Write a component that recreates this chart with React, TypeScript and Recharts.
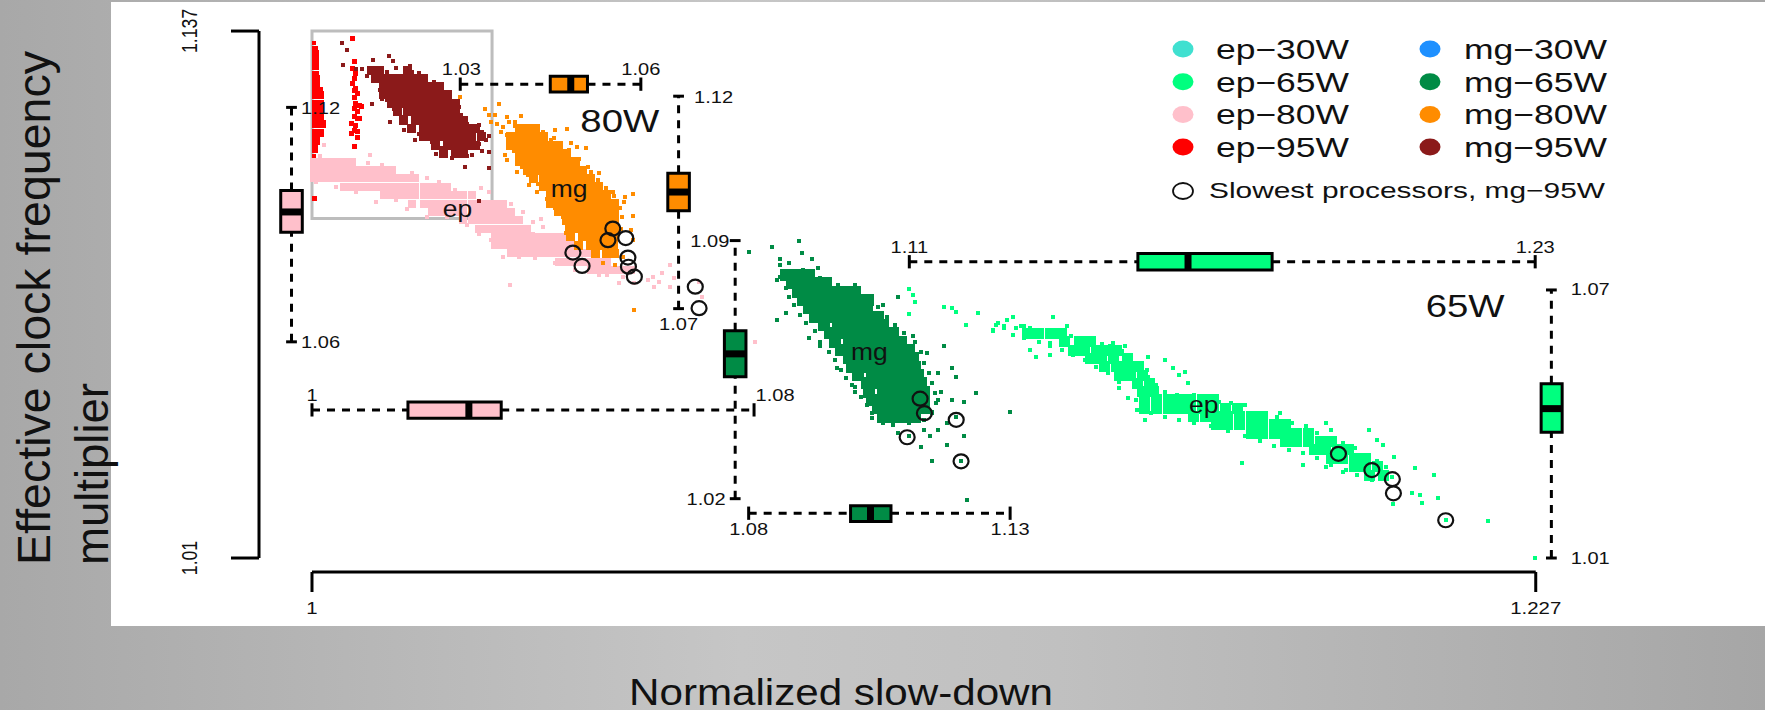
import { Fragment } from 'react';
import { ScatterChart, Scatter, XAxis, YAxis, ReferenceLine, ReferenceArea } from 'recharts';

type Pair = [number, number];
type Row = [number, number[]];

const xTicks = [1, 1.227];
const yTicks = [1.01, 1.137];

// dense parts of the clouds, as rows: [y, x values]
const ep80Core: Row[] = [
  [1.1055, [1.001, 1.0021, 1.0035, 1.005, 1.0065, 1.008]],
  [1.1035, [1.001, 1.0021, 1.0035, 1.005, 1.0065, 1.008, 1.0095, 1.0109, 1.0124, 1.0139, 1.0154]],
  [1.1015, [1.001, 1.0021, 1.0035, 1.005, 1.0065, 1.008, 1.0095, 1.0109, 1.0124, 1.0139, 1.0154, 1.0168, 1.0183, 1.0198]],
  [1.0995, [1.0065, 1.008, 1.0095, 1.0109, 1.0124, 1.0139, 1.0154, 1.0168, 1.0183, 1.0198, 1.0213, 1.0228, 1.0242, 1.0257]],
  [1.0975, [1.0139, 1.0154, 1.0168, 1.0183, 1.0198, 1.0213, 1.0228, 1.0242, 1.0257, 1.0272, 1.0287, 1.0302]],
  [1.0954, [1.0191, 1.0213, 1.0228, 1.0242, 1.0257, 1.0272, 1.0287, 1.0302, 1.0316, 1.0331, 1.0346, 1.0361]],
  [1.0934, [1.0228, 1.0242, 1.0257, 1.0272, 1.0287, 1.0302, 1.0316, 1.0331, 1.0346, 1.0361, 1.0375]],
  [1.0914, [1.0287, 1.0302, 1.0316, 1.0331, 1.0346, 1.0361, 1.0375, 1.039]],
  [1.0894, [1.0316, 1.0331, 1.0346, 1.0361, 1.0375, 1.039, 1.0405]],
  [1.0874, [1.0346, 1.0361, 1.0375, 1.039, 1.0405, 1.042, 1.0435, 1.0449, 1.0464, 1.0479]],
  [1.0854, [1.0346, 1.0361, 1.0375, 1.039, 1.0405, 1.042, 1.0435, 1.0449, 1.0464, 1.0479, 1.0494]],
  [1.0834, [1.0375, 1.039, 1.0405, 1.042, 1.0435, 1.0449, 1.0464, 1.0479, 1.0494, 1.0508, 1.0523]],
  [1.0814, [1.0464, 1.0479, 1.0494, 1.0508, 1.0523, 1.0538, 1.0553]],
  [1.0794, [1.0523, 1.0538, 1.0553, 1.0568, 1.0582, 1.0597]],
];
const ep80Stray: Pair[] = [
  [1.0553, 1.0782], [1.0582, 1.0778], [1.0638, 1.0778], [1.0649, 1.0766], [1.0671, 1.0806], [1.0656, 1.0786],
  [1.0678, 1.0774], [1.0641, 1.0754], [1.0671, 1.0754], [1.063, 1.077], [1.0723, 1.0766], [1.073, 1.073],
  [1.0373, 1.0758], [1.0361, 1.0826], [1.032, 1.0991], [1.0335, 1.0982], [1.0375, 1.0954], [1.0398, 1.0934],
  [1.0416, 1.091], [1.0431, 1.0918], [1.0435, 1.0898], [1.0113, 1.1071], [1.0028, 1.1095], [1.0021, 1.1068],
  [1.0242, 1.1007], [1.0021, 1.106], [1.005, 1.1059], [1.008, 1.1055], [1.0109, 1.1051], [1.0135, 1.1047],
  [1.0157, 1.1035], [1.0191, 1.1027], [1.022, 1.1015], [1.0242, 1.1007], [1.0272, 1.0987], [1.0302, 1.0978],
  [1.0335, 1.0954], [1.0353, 1.0946], [1.0375, 1.093], [1.039, 1.091], [1.0416, 1.0882], [1.0446, 1.087],
  [1.0468, 1.0866], [1.0013, 1.1007], [1.005, 1.0995], [1.0087, 1.0982], [1.0124, 1.0958], [1.0161, 1.0962],
  [1.0183, 1.0942], [1.022, 1.0922], [1.0257, 1.0922], [1.0294, 1.0902], [1.0316, 1.0882], [1.0338, 1.0866],
  [1.0361, 1.0826], [1.039, 1.0826], [1.042, 1.0822], [1.0457, 1.081], [1.0494, 1.0794], [1.0538, 1.0782],
  [1.0575, 1.0762], [1.0604, 1.0762],
];
const ep80Far: Pair[] = [[1.0821, 1.0621]];

const ep95Streak: Row[] = [
  [1.134, [1.001]], [1.133, [1.001, 1.0014]], [1.132, [1.001, 1.0015]], [1.131, [1.001, 1.0016]],
  [1.13, [1.001, 1.0016]], [1.129, [1.001, 1.0016]], [1.128, [1.001, 1.0016]], [1.127, [1.001, 1.0016]],
  [1.126, [1.001, 1.0017]], [1.125, [1.001, 1.0017]], [1.124, [1.001, 1.0017]], [1.123, [1.001, 1.0017, 1.0023]],
  [1.122, [1.001, 1.0017, 1.0024]], [1.121, [1.001, 1.0017, 1.0024]], [1.12, [1.001, 1.0017, 1.0024]],
  [1.119, [1.001, 1.0017, 1.0024]], [1.118, [1.001, 1.0017, 1.0024]], [1.117, [1.001, 1.0017, 1.0024]],
  [1.116, [1.001, 1.0017, 1.0024]], [1.115, [1.001, 1.0017, 1.0024, 1.0028]], [1.114, [1.001, 1.0017, 1.0024, 1.0028]],
  [1.113, [1.001, 1.0017, 1.0024]], [1.112, [1.001, 1.0017, 1.0024]], [1.111, [1.001, 1.0017]],
  [1.11, [1.001, 1.0017]], [1.109, [1.001, 1.0014]], [1.108, [1.001, 1.0014]], [1.107, [1.001]],
];
const ep95Stray: Pair[] = [
  [1.0084, 1.1296], [1.0082, 1.128], [1.0086, 1.1268], [1.0084, 1.1256], [1.0082, 1.1243], [1.0087, 1.1231],
  [1.0084, 1.1227], [1.0091, 1.1219], [1.0084, 1.1211], [1.0087, 1.1195], [1.0095, 1.1191], [1.0098, 1.1187],
  [1.0084, 1.1183], [1.0091, 1.1175], [1.0084, 1.1163], [1.0091, 1.1159], [1.008, 1.1147], [1.0087, 1.1143],
  [1.0095, 1.1159], [1.0084, 1.1131], [1.0091, 1.1127], [1.008, 1.1123], [1.0091, 1.1113], [1.0084, 1.1091],
  [1.001, 1.0966], [1.0082, 1.1352],
];

const mg95Core: Row[] = [
  [1.1276, [1.0117, 1.0132, 1.0183]],
  [1.1256, [1.0124, 1.0139, 1.0154, 1.0168, 1.0183, 1.0198, 1.0213]],
  [1.1236, [1.0139, 1.0154, 1.0168, 1.0183, 1.0198, 1.0213, 1.0228, 1.0242]],
  [1.1216, [1.0139, 1.0154, 1.0168, 1.0183, 1.0198, 1.0213, 1.0228, 1.0242, 1.0257]],
  [1.1196, [1.0154, 1.0168, 1.0183, 1.0198, 1.0213, 1.0228, 1.0242, 1.0257, 1.0272]],
  [1.1175, [1.0165, 1.0183, 1.0198, 1.0213, 1.0228, 1.0242, 1.0257, 1.0272]],
  [1.1155, [1.0176, 1.0198, 1.0213, 1.0228, 1.0242, 1.0257, 1.0272, 1.0287]],
  [1.1135, [1.0191, 1.0213, 1.0228, 1.0242, 1.0257, 1.0272, 1.0287, 1.0302, 1.0309]],
  [1.1115, [1.0213, 1.0228, 1.0242, 1.0257, 1.0272, 1.0287, 1.0302, 1.032]],
  [1.1095, [1.0235, 1.0257, 1.0272, 1.0287, 1.0302, 1.0309]],
  [1.1075, [1.025, 1.0272, 1.0287]],
];
const mg95Stray: Pair[] = [
  [1.0061, 1.134], [1.0071, 1.1324], [1.0064, 1.1288], [1.0149, 1.1309], [1.012, 1.13], [1.0157, 1.1297],
  [1.0161, 1.128], [1.0187, 1.1285], [1.0191, 1.1272], [1.0217, 1.1261], [1.0087, 1.1278], [1.0098, 1.1278],
  [1.0108, 1.1261], [1.0118, 1.1194], [1.015, 1.1151], [1.0135, 1.1207], [1.0246, 1.1237], [1.0257, 1.1219],
  [1.0279, 1.1187], [1.0283, 1.1167], [1.0176, 1.1131], [1.0198, 1.1107], [1.0236, 1.1073], [1.0265, 1.1065],
  [1.029, 1.1043], [1.0315, 1.0961], [1.0335, 1.1117], [1.0335, 1.1039], [1.0315, 1.1143], [1.0322, 1.1127],
  [1.0322, 1.1081], [1.0303, 1.1071], [1.0294, 1.1147], [1.0335, 1.1079], [1.0128, 1.1282], [1.0146, 1.1272],
  [1.0205, 1.1268], [1.0232, 1.1248], [1.0132, 1.1228], [1.0145, 1.1205], [1.0158, 1.1182], [1.0172, 1.1162],
  [1.0187, 1.1142], [1.0205, 1.1122], [1.0228, 1.1102], [1.0245, 1.1088], [1.0316, 1.1098], [1.0328, 1.1108],
  [1.0293, 1.1069], [1.0268, 1.1083],
];

const mg80Core: Row[] = [
  [1.1135, [1.039, 1.0405, 1.042]],
  [1.1115, [1.0375, 1.039, 1.0405, 1.042, 1.0435]],
  [1.1095, [1.0375, 1.039, 1.0405, 1.042, 1.0435, 1.0449, 1.0464]],
  [1.1075, [1.039, 1.0405, 1.042, 1.0435, 1.0449, 1.0464, 1.0479]],
  [1.1055, [1.039, 1.0405, 1.042, 1.0435, 1.0449, 1.0464, 1.0479, 1.0494]],
  [1.1035, [1.0405, 1.042, 1.0435, 1.0449, 1.0464, 1.0479, 1.0494, 1.0508]],
  [1.1015, [1.0416, 1.0435, 1.0449, 1.0464, 1.0479, 1.0494, 1.0508, 1.0523]],
  [1.0995, [1.0435, 1.0449, 1.0464, 1.0479, 1.0494, 1.0508, 1.0523, 1.0538]],
  [1.0975, [1.0449, 1.0464, 1.0479, 1.0494, 1.0508, 1.0523, 1.0538, 1.0553]],
  [1.0954, [1.0449, 1.0464, 1.0479, 1.0494, 1.0508, 1.0523, 1.0538, 1.0553, 1.0568]],
  [1.0934, [1.0464, 1.0479, 1.0494, 1.0508, 1.0523, 1.0538, 1.0553, 1.0568]],
  [1.0914, [1.0479, 1.0494, 1.0508, 1.0523, 1.0538, 1.0553, 1.0568]],
  [1.0894, [1.0483, 1.0494, 1.0508, 1.0523, 1.0538, 1.0553, 1.0568]],
  [1.0874, [1.0486, 1.0508, 1.0523, 1.0538, 1.0553, 1.0566]],
  [1.0854, [1.0501, 1.0523, 1.0538, 1.0553, 1.0566]],
  [1.0834, [1.0531, 1.0553, 1.0568]],
];
const mg80Stray: Pair[] = [
  [1.0281, 1.1211], [1.0327, 1.1181], [1.0353, 1.1193], [1.0335, 1.1167], [1.0346, 1.1167], [1.0368, 1.1163],
  [1.0338, 1.1151], [1.035, 1.1147], [1.0394, 1.1165], [1.0361, 1.1139], [1.0372, 1.1151], [1.0383, 1.1151],
  [1.0357, 1.1127], [1.0368, 1.1119], [1.0364, 1.1071], [1.0368, 1.1059], [1.0386, 1.1031], [1.0409, 1.0999],
  [1.0423, 1.0982], [1.0435, 1.1127], [1.0457, 1.1131], [1.0479, 1.1135], [1.0449, 1.1107], [1.0468, 1.1095],
  [1.0486, 1.1099], [1.0497, 1.1091], [1.0514, 1.1087], [1.0523, 1.1031], [1.0538, 1.1027], [1.0564, 1.0982],
  [1.0601, 1.0978], [1.0586, 1.097], [1.0584, 1.0958], [1.0601, 1.0924], [1.0597, 1.089], [1.0601, 1.0866],
  [1.0568, 1.0806], [1.0604, 1.0697], [1.0582, 1.0826], [1.0545, 1.081], [1.0382, 1.1141], [1.0432, 1.1122],
  [1.0455, 1.1112], [1.0482, 1.1084], [1.0502, 1.1062], [1.0518, 1.1043], [1.0536, 1.1012], [1.0551, 1.0992],
  [1.0567, 1.0972], [1.0578, 1.0944], [1.0581, 1.0922], [1.0579, 1.0892], [1.0381, 1.1082], [1.0396, 1.1042],
  [1.0406, 1.1022], [1.0426, 1.1002], [1.0442, 1.0966], [1.0456, 1.0944], [1.0472, 1.0922], [1.0477, 1.0884],
];

const mg65Core: Row[] = [
  [1.0782, [1.0879, 1.0901, 1.0922]],
  [1.0762, [1.089, 1.0911, 1.0933, 1.0954]],
  [1.0742, [1.0901, 1.0922, 1.0943, 1.0965, 1.0986, 1.1007]],
  [1.0722, [1.0911, 1.0933, 1.0954, 1.0975, 1.0997, 1.1018, 1.1031]],
  [1.0702, [1.0922, 1.0943, 1.0965, 1.0986, 1.1007, 1.1029]],
  [1.0682, [1.0933, 1.0954, 1.0975, 1.0997, 1.1018, 1.1039, 1.105]],
  [1.0662, [1.0949, 1.0975, 1.0997, 1.1018, 1.1039, 1.106]],
  [1.0642, [1.096, 1.0975, 1.0997, 1.1018, 1.1039, 1.106, 1.1077]],
  [1.0621, [1.097, 1.0997, 1.1018, 1.1039, 1.106, 1.1082, 1.1092]],
  [1.0601, [1.0981, 1.0997, 1.1018, 1.1039, 1.106, 1.1082, 1.1103, 1.1108]],
  [1.0581, [1.0997, 1.1018, 1.1039, 1.106, 1.1082, 1.1103, 1.1114]],
  [1.0561, [1.1002, 1.1018, 1.1039, 1.106, 1.1082, 1.1103, 1.1119]],
  [1.0541, [1.1013, 1.1039, 1.106, 1.1082, 1.1103, 1.1124]],
  [1.0521, [1.1029, 1.1039, 1.106, 1.1082, 1.1103, 1.1124, 1.113]],
  [1.0501, [1.1034, 1.106, 1.1082, 1.1103, 1.1124, 1.1135]],
  [1.0481, [1.1039, 1.106, 1.1082, 1.1103, 1.1124, 1.1135]],
  [1.0461, [1.105, 1.106, 1.1082, 1.1103, 1.1124, 1.1135]],
  [1.0441, [1.106, 1.1082, 1.1103, 1.1119]],
];
const mg65Stray: Pair[] = [
  [1.081, 1.0838], [1.0853, 1.0849], [1.0903, 1.0864], [1.0909, 1.0834], [1.0869, 1.082], [1.0885, 1.081],
  [1.0927, 1.082], [1.0911, 1.0794], [1.0938, 1.0798], [1.0869, 1.0806], [1.0863, 1.077], [1.0879, 1.069],
  [1.0863, 1.0674], [1.0922, 1.063], [1.0943, 1.061], [1.0973, 1.0557], [1.1002, 1.0517], [1.1007, 1.0501],
  [1.1039, 1.0437], [1.106, 1.0437], [1.1077, 1.0421], [1.1087, 1.0401], [1.113, 1.0368], [1.1151, 1.0333],
  [1.1178, 1.0373], [1.1146, 1.0393], [1.1162, 1.0409], [1.121, 1.0393], [1.1178, 1.0425], [1.1194, 1.0441],
  [1.121, 1.0477], [1.1231, 1.0497], [1.1295, 1.0451], [1.1188, 1.0557], [1.1194, 1.0537], [1.1162, 1.0545],
  [1.1172, 1.061], [1.114, 1.0594], [1.1114, 1.0634], [1.1087, 1.073], [1.106, 1.071], [1.1007, 1.0758],
  [1.0975, 1.0758], [1.1151, 1.0521], [1.1167, 1.0501], [1.1162, 1.0481], [1.1188, 1.0481], [1.1215, 1.024],
  [1.1204, 1.0333], [1.1151, 1.0453], [1.1135, 1.0409], [1.1108, 1.0393],
  [1.0869, 1.0778], [1.0879, 1.075], [1.0885, 1.073], [1.0895, 1.071], [1.0906, 1.0686], [1.0917, 1.0666],
  [1.0933, 1.0646], [1.0943, 1.0621], [1.0959, 1.0597], [1.097, 1.0577], [1.0981, 1.0553], [1.0991, 1.0533],
  [1.1007, 1.0513], [1.1018, 1.0489], [1.1029, 1.0469], [1.1039, 1.0449], [1.0943, 1.0774], [1.0975, 1.075],
  [1.1029, 1.073], [1.105, 1.0706], [1.1066, 1.0682], [1.1082, 1.0662], [1.1098, 1.0642], [1.1119, 1.0621],
  [1.113, 1.0597], [1.1135, 1.0569], [1.1144, 1.0545], [1.1151, 1.0521], [1.1156, 1.0497], [1.1158, 1.0473],
  [1.1151, 1.0449], [1.1135, 1.0433], [1.1108, 1.0425], [1.1082, 1.0429], [1.106, 1.0425],
];

const ep65Core: Row[] = [
  [1.0642, [1.1327, 1.1348, 1.1369, 1.1391]],
  [1.0621, [1.1396, 1.1423, 1.1444]],
  [1.0601, [1.1412, 1.1433, 1.1455, 1.1476, 1.1492]],
  [1.0581, [1.1444, 1.1465, 1.1486, 1.1513]],
  [1.0561, [1.147, 1.1492, 1.1513, 1.1534]],
  [1.0541, [1.1497, 1.1518, 1.154]],
  [1.0521, [1.1531, 1.1553]],
  [1.0501, [1.154, 1.1561]],
  [1.0481, [1.1545, 1.1566, 1.1588, 1.1609, 1.163, 1.1652, 1.1673]],
  [1.0461, [1.1545, 1.1566, 1.1588, 1.1609, 1.163, 1.1652, 1.1673, 1.1694, 1.1716]],
  [1.0441, [1.1636, 1.1657, 1.1678, 1.1699, 1.1721, 1.1742, 1.1763]],
  [1.0421, [1.1678, 1.1699, 1.1721, 1.1742, 1.1763, 1.1785, 1.1806]],
  [1.0401, [1.1742, 1.1763, 1.1785, 1.1806, 1.1827, 1.1848]],
  [1.0381, [1.1806, 1.1827, 1.1848, 1.187, 1.1891]],
  [1.0361, [1.1859, 1.188, 1.1902, 1.1923]],
  [1.034, [1.1891, 1.1912, 1.1934, 1.1955]],
  [1.032, [1.1934, 1.1955, 1.1976]],
  [1.03, [1.1961, 1.1987]],
];
const ep65Stray: Pair[] = [
  [1.1108, 1.0748], [1.1114, 1.0734], [1.1119, 1.0718], [1.1108, 1.0688], [1.1172, 1.0704], [1.1188, 1.0702],
  [1.1194, 1.0694], [1.1236, 1.0691], [1.1213, 1.0662], [1.13, 1.0682], [1.1375, 1.068], [1.1263, 1.065],
  [1.1273, 1.0666], [1.1289, 1.0674], [1.1284, 1.0659], [1.1305, 1.0654], [1.1321, 1.0658], [1.1332, 1.0601],
  [1.1343, 1.0585], [1.1369, 1.061], [1.1369, 1.0589], [1.1401, 1.0658], [1.1486, 1.0618], [1.1508, 1.061],
  [1.155, 1.0585], [1.1582, 1.0577], [1.1598, 1.0557], [1.162, 1.0549], [1.1609, 1.0541], [1.1625, 1.0521],
  [1.1566, 1.0517], [1.1545, 1.0433], [1.1513, 1.0485], [1.1497, 1.0509], [1.1726, 1.0328], [1.1795, 1.0449],
  [1.1881, 1.0425], [1.1891, 1.0409], [1.196, 1.0409], [1.1976, 1.0385], [1.2008, 1.0344], [1.2046, 1.0316],
  [1.2081, 1.03], [1.204, 1.0256], [1.2056, 1.0252], [1.2088, 1.0244], [1.2059, 1.0232], [1.2006, 1.023],
  [1.2104, 1.0192], [1.2181, 1.019], [1.2269, 1.0099], [1.1838, 1.0324], [1.1881, 1.032], [1.1912, 1.0308],
  [1.1987, 1.0373], [1.2003, 1.0296],
  [1.1268, 1.0662], [1.1284, 1.0654], [1.1316, 1.066], [1.1332, 1.0654], [1.1348, 1.0646], [1.1364, 1.0642],
  [1.1385, 1.0638], [1.1407, 1.0634], [1.1423, 1.063], [1.1444, 1.0621], [1.1465, 1.0616], [1.1481, 1.061],
  [1.1502, 1.0598], [1.1518, 1.059], [1.154, 1.0569], [1.1548, 1.0553], [1.155, 1.0537], [1.1561, 1.0513],
  [1.1582, 1.0501], [1.1604, 1.0493], [1.1636, 1.0493], [1.1657, 1.0481], [1.1683, 1.0477], [1.1705, 1.0473],
  [1.1731, 1.0469], [1.1758, 1.0449], [1.179, 1.0441], [1.1817, 1.0425], [1.1843, 1.0417], [1.1865, 1.0401],
  [1.1886, 1.0389], [1.1912, 1.0377], [1.1934, 1.0365], [1.1955, 1.0345], [1.1976, 1.0333], [1.1992, 1.032],
  [1.1263, 1.0646], [1.13, 1.0638], [1.1321, 1.063], [1.1348, 1.0621], [1.1369, 1.0618], [1.1391, 1.0601],
  [1.1412, 1.059], [1.1433, 1.0577], [1.1455, 1.0561], [1.1476, 1.0545], [1.1497, 1.0525], [1.1524, 1.0513],
  [1.1529, 1.0481], [1.1531, 1.0457], [1.1556, 1.0449], [1.1582, 1.0441], [1.1609, 1.0433], [1.1636, 1.0425],
  [1.1668, 1.0417], [1.1699, 1.0405], [1.1731, 1.0393], [1.1758, 1.0381], [1.1785, 1.0369], [1.1812, 1.0361],
  [1.1838, 1.0353], [1.1865, 1.034], [1.1891, 1.0324], [1.1918, 1.0312], [1.1939, 1.03], [1.1966, 1.0288],
];

const slowest: Pair[] = [
  [1.0558, 1.0894], [1.0549, 1.0866], [1.0582, 1.0871], [1.0586, 1.0824], [1.0587, 1.0802], [1.0598, 1.0778],
  [1.0484, 1.0836], [1.0501, 1.0804], [1.0711, 1.0754], [1.0718, 1.0702],
  [1.1128, 1.0484], [1.1136, 1.0449], [1.1195, 1.0433], [1.1104, 1.0391], [1.1204, 1.0333],
  [1.1904, 1.0351], [1.1966, 1.0312], [1.2004, 1.029], [1.2006, 1.0256], [1.2103, 1.0191],
];

const whiskerLabels = [
  { x: 1.0016, y: 1.1185, text: '1.12' }, { x: 1.0016, y: 1.0621, text: '1.06' },
  { x: 1.0277, y: 1.1278, text: '1.03' }, { x: 1.061, y: 1.1278, text: '1.06' },
  { x: 1.0745, y: 1.1211, text: '1.12' }, { x: 1.068, y: 1.0664, text: '1.07' },
  { x: 1.0738, y: 1.0864, text: '1.09' }, { x: 1.0731, y: 1.0242, text: '1.02' },
  { x: 1.081, y: 1.017, text: '1.08' }, { x: 1.1295, y: 1.017, text: '1.13' },
  { x: 1.1108, y: 1.0849, text: '1.11' }, { x: 1.2269, y: 1.0849, text: '1.23' },
  { x: 1.2371, y: 1.0748, text: '1.07' }, { x: 1.2371, y: 1.01, text: '1.01' },
  { x: 1.0, y: 1.0493, text: '1' }, { x: 1.0859, y: 1.0493, text: '1.08' },
];
const groupLabels = [
  { x: 1.027, y: 1.0942, text: 'ep' }, { x: 1.0477, y: 1.0988, text: 'mg' },
  { x: 1.1034, y: 1.0597, text: 'mg' }, { x: 1.1654, y: 1.0469, text: 'ep' },
];
const powerLabels = [
  { x: 1.0571, y: 1.1153, text: '80W' }, { x: 1.2139, y: 1.0707, text: '65W' },
];

const legendLeft = [
  { name: 'ep\u221230W', color: '#40E0D0' }, { name: 'ep\u221265W', color: '#00FF7F' },
  { name: 'ep\u221280W', color: '#FFC0CB' }, { name: 'ep\u221295W', color: '#FF0000' },
];
const legendRight = [
  { name: 'mg\u221230W', color: '#1E90FF' }, { name: 'mg\u221265W', color: '#008B45' },
  { name: 'mg\u221280W', color: '#FF8C00' }, { name: 'mg\u221295W', color: '#8B1A1A' },
];

const boxes = [
  { id: 'ep80y', horizontal: false, at: 0.9962, low: 1.0621, q1: 1.0885, median: 1.0934, q3: 1.0986, high: 1.1186, band: [0.9942, 0.9982], fill: '#FFC0CB' },
  { id: 'mg80y', horizontal: false, at: 1.068, low: 1.0701, q1: 1.0937, median: 1.0982, q3: 1.1027, high: 1.1213, band: [1.066, 1.07], fill: '#FF8C00' },
  { id: 'mg80x', horizontal: true, at: 1.1242, low: 1.0275, q1: 1.0442, median: 1.048, q3: 1.0511, high: 1.061, band: [1.1223, 1.1261], fill: '#FF8C00' },
  { id: 'mg65y', horizontal: false, at: 1.0785, low: 1.0243, q1: 1.0537, median: 1.0592, q3: 1.0648, high: 1.0865, band: [1.0765, 1.0805], fill: '#008B45' },
  { id: 'mg65x', horizontal: true, at: 1.0208, low: 1.081, q1: 1.0999, median: 1.1036, q3: 1.1074, high: 1.1295, band: [1.0188, 1.0226], fill: '#008B45' },
  { id: 'ep65x', horizontal: true, at: 1.0814, low: 1.1108, q1: 1.1532, median: 1.1625, q3: 1.1781, high: 1.2269, band: [1.0794, 1.0834], fill: '#00FF7F' },
  { id: 'ep65y', horizontal: false, at: 1.2299, low: 1.01, q1: 1.0403, median: 1.046, q3: 1.052, high: 1.0746, band: [1.228, 1.2319], fill: '#00FF7F' },
  { id: 'ep80x', horizontal: true, at: 1.0457, low: 1.0, q1: 1.0178, median: 1.0291, q3: 1.0351, high: 1.082, band: [1.0437, 1.0476], fill: '#FFC0CB' },
];

const xDomain = [0.99017, 1.23892];
const yDomain = [1.00663, 1.13966];

// the x values of the 80W and 95W clouds came out of a crop that reads slightly high
const cropOffset = -0.0006;

const fromRows = (rows: Row[], dx = 0) => rows.flatMap(([y, xs]) => xs.map((x) => ({ x: x + dx, y })));
const fromPairs = (pairs: Pair[], dx = 0) => pairs.map(([x, y]) => ({ x: x + dx, y }));

const square = (size: number, fill: string) => (p: any) => (
  <rect x={p.cx - size / 2} y={p.cy - size / 2} width={size} height={size} fill={fill} shapeRendering="crispEdges" />
);
const ring = (p: any) => <ellipse cx={p.cx} cy={p.cy} rx={7.5} ry={7} fill="none" stroke="#111" strokeWidth={2.2} />;
const label = (fontSize: number, stretch: number) => (p: any) => (
  <text
    transform={`translate(${p.cx} ${p.cy}) scale(${stretch} 1)`}
    textAnchor="middle"
    dominantBaseline="central"
    fontSize={fontSize}
    fontFamily="Liberation Sans"
    fill="#111"
  >
    {p.payload.text}
  </text>
);

const XTick = ({ x, y, payload }: any) => (
  <text transform={`translate(${x} ${y + 14}) scale(1.2 1)`} textAnchor="middle" dominantBaseline="central" fontSize={17} fontFamily="Liberation Sans" fill="#111">
    {payload.value}
  </text>
);
const YTick = ({ x, y, payload }: any) => (
  <text transform={`translate(${x - 40} ${y}) rotate(-90) scale(0.8 1)`} textAnchor="middle" dominantBaseline="central" fontSize={22} fontFamily="Liberation Sans" fill="#111">
    {payload.value}
  </text>
);

function renderBox(b: (typeof boxes)[number]) {
  const pt = (along: number, across: number) => (b.horizontal ? { x: along, y: across } : { x: across, y: along });
  const capHalf = b.horizontal ? 0.0016 : 0.001;
  const seg = (a: number, c1: number, a2: number, c2: number) => [pt(a, c1), pt(a2, c2)] as any;
  const area = b.horizontal
    ? { x1: b.q1, x2: b.q3, y1: b.band[0], y2: b.band[1] }
    : { x1: b.band[0], x2: b.band[1], y1: b.q1, y2: b.q3 };
  return (
    <Fragment key={b.id}>
      <ReferenceLine ifOverflow="visible" segment={seg(b.low, b.at, b.q1, b.at)} stroke="#000" strokeWidth={3} strokeDasharray="8 7" />
      <ReferenceLine ifOverflow="visible" segment={seg(b.q3, b.at, b.high, b.at)} stroke="#000" strokeWidth={3} strokeDasharray="8 7" />
      <ReferenceLine ifOverflow="visible" segment={seg(b.low, b.at - capHalf, b.low, b.at + capHalf)} stroke="#000" strokeWidth={3} />
      <ReferenceLine ifOverflow="visible" segment={seg(b.high, b.at - capHalf, b.high, b.at + capHalf)} stroke="#000" strokeWidth={3} />
      <ReferenceArea ifOverflow="visible" {...area} fill={b.fill} fillOpacity={1} stroke="#000" strokeWidth={3} />
      <ReferenceLine ifOverflow="visible" segment={seg(b.median, b.band[0], b.median, b.band[1])} stroke="#000" strokeWidth={7} />
    </Fragment>
  );
}

export default function App() {
  return (
    <div
      style={{
        position: 'absolute',
        left: 0,
        top: 0,
        width: 1765,
        height: 710,
        overflow: 'hidden',
        background: 'linear-gradient(90deg, #a8a8a8 0%, #c6c6c6 42%, #c0c0c0 60%, #a6a6a6 100%)',
      }}
    >
      <div style={{ position: 'absolute', left: 111, top: 2, width: 1654, height: 624, background: '#fff' }} />
      <ScatterChart width={1765} height={710} margin={{ top: 20, right: 165, bottom: 0, left: 0 }} style={{ position: 'absolute', left: 0, top: 0 }}>
        <XAxis type="number" dataKey="x" domain={xDomain} ticks={xTicks} interval={0} height={138} axisLine={false} tickSize={20} tickLine={{ stroke: '#000', strokeWidth: 3 }} tick={<XTick />} />
        <YAxis type="number" dataKey="y" domain={yDomain} ticks={yTicks} interval={0} width={259} axisLine={false} tickSize={28} tickLine={{ stroke: '#000', strokeWidth: 3 }} tick={<YTick />} />

        <Scatter data={fromRows(ep80Core, cropOffset)} shape={square(8, '#FFC0CB')} isAnimationActive={false} />
        <Scatter data={fromPairs(ep80Stray, cropOffset)} shape={square(4, '#FFC0CB')} isAnimationActive={false} />
        <Scatter data={fromPairs(ep80Far)} shape={square(4, '#FFC0CB')} isAnimationActive={false} />
        <Scatter data={fromRows(ep95Streak, cropOffset)} shape={square(4, '#FF0000')} isAnimationActive={false} />
        <Scatter data={fromPairs(ep95Stray, cropOffset)} shape={square(5, '#FF0000')} isAnimationActive={false} />
        <Scatter data={fromRows(mg95Core, cropOffset)} shape={square(9, '#8B1A1A')} isAnimationActive={false} />
        <Scatter data={fromPairs(mg95Stray, cropOffset)} shape={square(4, '#8B1A1A')} isAnimationActive={false} />
        <Scatter data={fromRows(mg80Core, cropOffset)} shape={square(9, '#FF8C00')} isAnimationActive={false} />
        <Scatter data={fromPairs(mg80Stray, cropOffset)} shape={square(4, '#FF8C00')} isAnimationActive={false} />
        <Scatter data={fromRows(ep65Core)} shape={square(11, '#00FF7F')} isAnimationActive={false} />
        <Scatter data={fromPairs(ep65Stray)} shape={square(4, '#00FF7F')} isAnimationActive={false} />
        <Scatter data={fromRows(mg65Core)} shape={square(12, '#008B45')} isAnimationActive={false} />
        <Scatter data={fromPairs(mg65Stray)} shape={square(4, '#008B45')} isAnimationActive={false} />
        <Scatter data={fromPairs(slowest)} shape={ring} isAnimationActive={false} />

        <ReferenceArea ifOverflow="visible" x1={1} x2={1.0334} y1={1.0918} y2={1.137} fill="none" stroke="#bdbdbd" strokeWidth={3} />
        <ReferenceLine ifOverflow="visible" segment={[{ x: xTicks[0], y: yDomain[0] }, { x: xTicks[1], y: yDomain[0] }]} stroke="#000" strokeWidth={3} />
        <ReferenceLine ifOverflow="visible" segment={[{ x: xDomain[0], y: yTicks[0] }, { x: xDomain[0], y: yTicks[1] }]} stroke="#000" strokeWidth={3} />
        {boxes.map(renderBox)}

        <Scatter data={whiskerLabels} shape={label(17, 1.18)} isAnimationActive={false} />
        <Scatter data={groupLabels} shape={label(23, 1.15)} isAnimationActive={false} />
        <Scatter data={powerLabels} shape={label(32, 1.2)} isAnimationActive={false} />
      </ScatterChart>

      <svg width={1765} height={710} style={{ position: 'absolute', left: 0, top: 0, pointerEvents: 'none' }} fontFamily="Liberation Sans" fill="#111">
        <text transform="translate(50 565) rotate(-90)" fontSize={46} textLength={514} lengthAdjust="spacingAndGlyphs">
          Effective clock frequency
        </text>
        <text transform="translate(108 565) rotate(-90)" fontSize={46} textLength={182} lengthAdjust="spacingAndGlyphs">
          multiplier
        </text>
        <text x={629} y={705} fontSize={37} textLength={424} lengthAdjust="spacingAndGlyphs">
          Normalized slow-down
        </text>
        {legendLeft.map((item, i) => (
          <g key={item.name}>
            <ellipse cx={1183} cy={49 + i * 32.7} rx={10.5} ry={8.5} fill={item.color} />
            <text x={1216} y={59 + i * 32.7} fontSize={28} textLength={133} lengthAdjust="spacingAndGlyphs">
              {item.name}
            </text>
          </g>
        ))}
        {legendRight.map((item, i) => (
          <g key={item.name}>
            <ellipse cx={1430} cy={49 + i * 32.7} rx={10.5} ry={8.5} fill={item.color} />
            <text x={1464} y={59 + i * 32.7} fontSize={28} textLength={143} lengthAdjust="spacingAndGlyphs">
              {item.name}
            </text>
          </g>
        ))}
        <ellipse cx={1183} cy={191} rx={10} ry={8} fill="none" stroke="#111" strokeWidth={1.8} />
        <text x={1209} y={198} fontSize={22} textLength={396} lengthAdjust="spacingAndGlyphs">
          Slowest processors, mg{'\u2212'}95W
        </text>
      </svg>
    </div>
  );
}
